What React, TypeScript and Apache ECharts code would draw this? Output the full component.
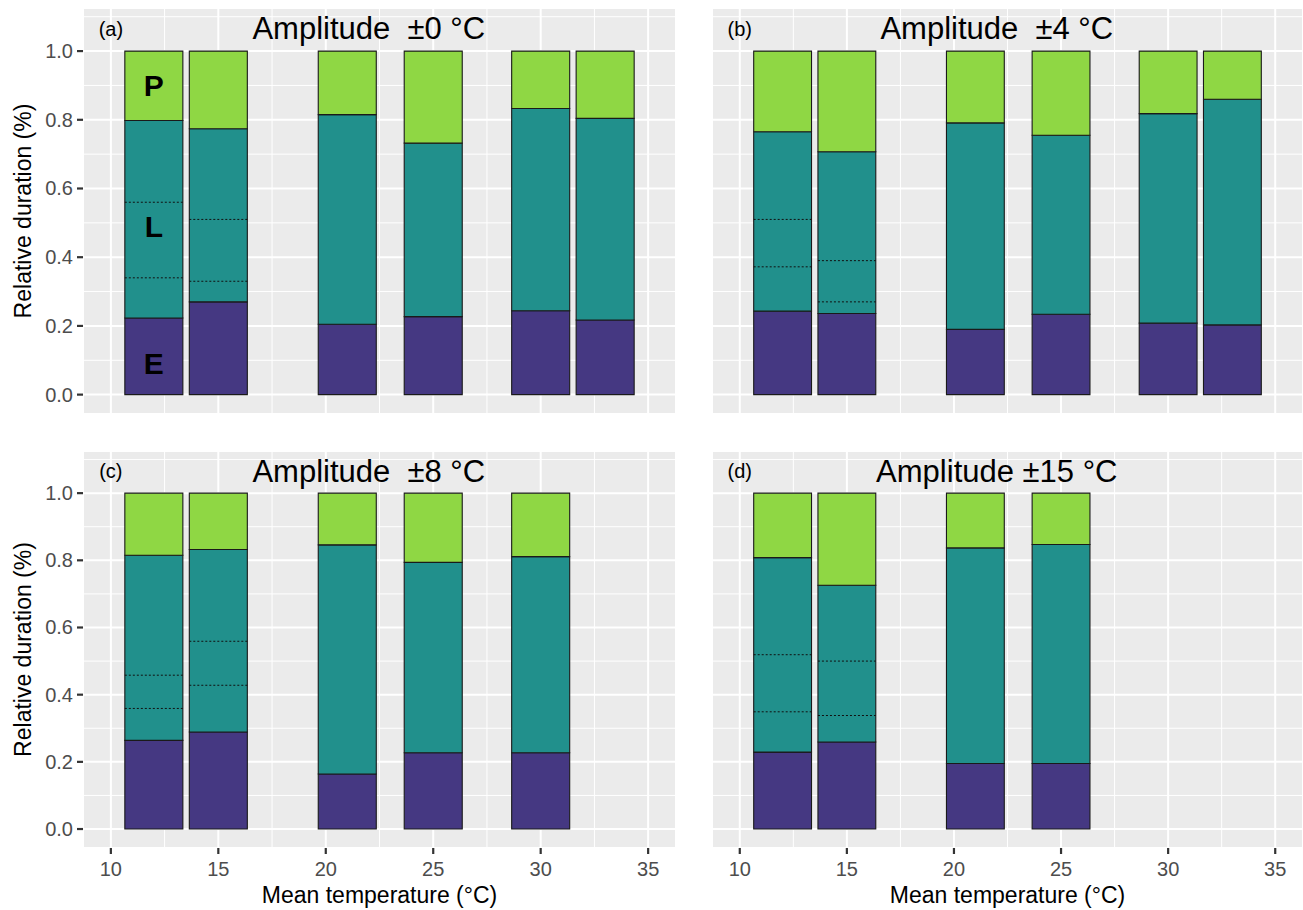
import React, { useEffect, useRef } from "react";
import * as echarts from "echarts";

// ---------- data ----------
const panelLabels = ["(a)", "(b)", "(c)", "(d)"];
const panelTitles = ["Amplitude  ±0 °C", "Amplitude  ±4 °C", "Amplitude  ±8 °C", "Amplitude ±15 °C"];

const tempsA = [12, 15, 21, 25, 30, 33];
const eggA = [0.223, 0.27, 0.205, 0.227, 0.244, 0.217];
const larvaA = [0.575, 0.504, 0.61, 0.505, 0.589, 0.587];
const pupaA = [0.202, 0.226, 0.185, 0.268, 0.167, 0.196];
const instarA = [[12, 0.34], [12, 0.56], [15, 0.33], [15, 0.51]];

const tempsB = [12, 15, 21, 25, 30, 33];
const eggB = [0.243, 0.236, 0.19, 0.234, 0.208, 0.203];
const larvaB = [0.522, 0.471, 0.601, 0.521, 0.61, 0.657];
const pupaB = [0.235, 0.293, 0.209, 0.245, 0.182, 0.14];
const instarB = [[12, 0.372], [12, 0.51], [15, 0.27], [15, 0.39]];

const tempsC = [12, 15, 21, 25, 30];
const eggC = [0.264, 0.289, 0.164, 0.227, 0.227];
const larvaC = [0.551, 0.543, 0.682, 0.567, 0.584];
const pupaC = [0.185, 0.168, 0.154, 0.206, 0.189];
const instarC = [[12, 0.359], [12, 0.458], [15, 0.428], [15, 0.559]];

const tempsD = [12, 15, 21, 25];
const eggD = [0.229, 0.259, 0.195, 0.195];
const larvaD = [0.579, 0.467, 0.642, 0.652];
const pupaD = [0.192, 0.274, 0.163, 0.153];
const instarD = [[12, 0.349], [12, 0.519], [15, 0.338], [15, 0.5]];

const stageLetters = ["E", "L", "P"];
const stageLetterY = [0.09, 0.49, 0.9];

const xTicks = [10, 15, 20, 25, 30, 35];
const xMinor = [12.5, 17.5, 22.5, 27.5, 32.5];
const yTicks = [0, 0.2, 0.4, 0.6, 0.8, 1.0];
const yMinor = [0.1, 0.3, 0.5, 0.7, 0.9, 1.1];

const xAxisTitle = "Mean temperature (°C)";
const yAxisTitle = "Relative duration (%)";

// ---------- styling ----------
const BAR_W = 2.7;
const XMIN = 8.75;
const XMAX = 36.25;
const YMIN = -0.0535;
const YMAX = 1.1225;
const COLORS = ["#453882", "#21908c", "#8fd744"];
const FONT = "'Liberation Sans', Arial, Helvetica, sans-serif";

const panels = [
  { temps: tempsA, egg: eggA, larva: larvaA, pupa: pupaA, instar: instarA },
  { temps: tempsB, egg: eggB, larva: larvaB, pupa: pupaB, instar: instarB },
  { temps: tempsC, egg: eggC, larva: larvaC, pupa: pupaC, instar: instarC },
  { temps: tempsD, egg: eggD, larva: larvaD, pupa: pupaD, instar: instarD },
];

const gridRects = [
  { left: 84, top: 9, width: 591, height: 404 },
  { left: 713, top: 9, width: 589, height: 404 },
  { left: 84, top: 452, width: 591, height: 395 },
  { left: 713, top: 452, width: 589, height: 395 },
];

function buildOption() {
  const grid: any[] = [];
  const xAxis: any[] = [];
  const yAxis: any[] = [];
  const series: any[] = [];

  panels.forEach((p, i) => {
    const isLeft = i % 2 === 0;
    const isBottom = i >= 2;
    grid.push({
      ...gridRects[i],
      show: true,
      backgroundColor: "#ebebeb",
      borderWidth: 0,
      containLabel: false,
    });
    xAxis.push({
      gridIndex: i,
      type: "value",
      position: "bottom",
      min: XMIN,
      max: XMAX,
      splitLine: { show: false },
      axisLine: { show: false, onZero: false },
      axisTick: { show: false },
      axisLabel: {
        show: isBottom,
        customValues: xTicks,
        color: "#4d4d4d",
        fontSize: 20,
        fontFamily: FONT,
        margin: 12,
      },
      name: isBottom ? xAxisTitle : "",
      nameLocation: "middle",
      nameGap: 36,
      nameTextStyle: { fontSize: 23, color: "#000", fontFamily: FONT, verticalAlign: "top" },
    });
    yAxis.push({
      gridIndex: i,
      type: "value",
      position: "left",
      min: YMIN,
      max: YMAX,
      splitLine: { show: false },
      axisLine: { show: false, onZero: false },
      axisTick: { show: false },
      axisLabel: {
        show: isLeft,
        customValues: yTicks,
        color: "#4d4d4d",
        fontSize: 20,
        fontFamily: FONT,
        margin: 11,
        formatter: (v: number) => v.toFixed(1),
      },
      name: isLeft ? yAxisTitle : "",
      nameLocation: "middle",
      nameGap: 50,
      nameTextStyle: { fontSize: 23, color: "#000", fontFamily: FONT },
    });

    // grid lines
    const gridData: number[][] = [];
    xTicks.forEach((v) => gridData.push([v, 0]));
    xMinor.forEach((v) => gridData.push([v, 1]));
    yTicks.forEach((v) => gridData.push([v, 2]));
    yMinor.forEach((v) => gridData.push([v, 3]));
    series.push({
      type: "custom",
      name: "grid-" + i,
      xAxisIndex: i,
      yAxisIndex: i,
      silent: true,
      z: 1,
      data: gridData,
      renderItem: (params: any, api: any) => {
        const v = api.value(0);
        const k = api.value(1);
        let p1: number[];
        let p2: number[];
        if (k < 2) {
          p1 = api.coord([v, YMIN]);
          p2 = api.coord([v, YMAX]);
        } else {
          p1 = api.coord([XMIN, v]);
          p2 = api.coord([XMAX, v]);
        }
        return {
          type: "line",
          shape: { x1: p1[0], y1: p1[1], x2: p2[0], y2: p2[1] },
          style: { stroke: "#ffffff", lineWidth: k % 2 === 0 ? 2 : 1 },
        };
      },
    });

    // stacked bars
    const stages = [p.egg, p.larva, p.pupa];
    const stageNames = ["Egg", "Larva", "Pupa"];
    const cum = p.temps.map(() => 0);
    stages.forEach((vals, s) => {
      const data = p.temps.map((t, j) => {
        const y0 = cum[j];
        const y1 = cum[j] + vals[j];
        cum[j] = y1;
        return [t, y0, y1];
      });
      series.push({
        type: "custom",
        name: stageNames[s],
        xAxisIndex: i,
        yAxisIndex: i,
        z: 2,
        encode: { x: 0, y: [1, 2] },
        data,
        renderItem: (params: any, api: any) => {
          const x = api.value(0);
          const y0 = api.value(1);
          const y1 = api.value(2);
          const a = api.coord([x - BAR_W / 2, y1]);
          const b = api.coord([x + BAR_W / 2, y0]);
          return {
            type: "rect",
            shape: { x: a[0], y: a[1], width: b[0] - a[0], height: b[1] - a[1] },
            style: { fill: COLORS[s], stroke: "#1a1a1a", lineWidth: 1.1 },
          };
        },
      });
    });

    // instar boundaries (dotted)
    series.push({
      type: "custom",
      name: "instars-" + i,
      xAxisIndex: i,
      yAxisIndex: i,
      z: 3,
      silent: true,
      data: p.instar,
      renderItem: (params: any, api: any) => {
        const x = api.value(0);
        const y = api.value(1);
        const a = api.coord([x - BAR_W / 2, y]);
        const b = api.coord([x + BAR_W / 2, y]);
        return {
          type: "line",
          shape: { x1: a[0], y1: a[1], x2: b[0], y2: b[1] },
          style: { stroke: "#111111", lineWidth: 1, lineDash: [2, 2] },
        };
      },
    });

    // panel texts
    const texts: { x: number; y: number; text: string; size: number; bold: boolean }[] = [
      { x: 10, y: 1.065, text: panelLabels[i], size: 20, bold: false },
      { x: 22, y: 1.065, text: panelTitles[i], size: 31, bold: false },
    ];
    if (i === 0) {
      stageLetters.forEach((l, s) => {
        texts.push({ x: p.temps[0], y: stageLetterY[s], text: l, size: 30, bold: true });
      });
    }
    series.push({
      type: "custom",
      name: "texts-" + i,
      xAxisIndex: i,
      yAxisIndex: i,
      z: 4,
      silent: true,
      data: texts.map((t) => [t.x, t.y]),
      renderItem: (params: any, api: any) => {
        const t = texts[params.dataIndex];
        const c = api.coord([api.value(0), api.value(1)]);
        return {
          type: "text",
          x: c[0],
          y: c[1],
          style: {
            text: t.text,
            fill: "#000000",
            fontSize: t.size,
            fontWeight: t.bold ? "bold" : "normal",
            fontFamily: FONT,
            align: "center",
            verticalAlign: "middle",
          },
        };
      },
    });
  });

  return {
    animation: false,
    backgroundColor: "#ffffff",
    grid,
    xAxis,
    yAxis,
    series,
  };
}

// axis tick marks placed with the chart's own coordinate conversion
function buildTickGraphics(chart: any) {
  const els: any[] = [];
  panels.forEach((p, i) => {
    const isLeft = i % 2 === 0;
    const isBottom = i >= 2;
    if (isBottom) {
      xTicks.forEach((v) => {
        const c = chart.convertToPixel({ gridIndex: i }, [v, YMIN]);
        if (!c) return;
        els.push({
          type: "rect",
          silent: true,
          z: 10,
          shape: { x: c[0] - 1.1, y: c[1] + 1, width: 2.2, height: 6 },
          style: { fill: "#333333" },
        });
      });
    }
    if (isLeft) {
      yTicks.forEach((v) => {
        const c = chart.convertToPixel({ gridIndex: i }, [XMIN, v]);
        if (!c) return;
        els.push({
          type: "rect",
          silent: true,
          z: 10,
          shape: { x: c[0] - 7, y: c[1] - 1.1, width: 6, height: 2.2 },
          style: { fill: "#333333" },
        });
      });
    }
  });
  return els;
}

export default function App() {
  const ref = useRef<HTMLDivElement>(null);
  useEffect(() => {
    if (!ref.current) return;
    const chart = echarts.init(ref.current, undefined, { renderer: "svg" });
    chart.setOption(buildOption() as any);
    chart.setOption({ graphic: buildTickGraphics(chart) } as any);
    return () => chart.dispose();
  }, []);
  return (
    <div
      ref={ref}
      style={{ position: "fixed", left: 0, top: 0, width: 1303, height: 910, background: "#fff" }}
    />
  );
}
